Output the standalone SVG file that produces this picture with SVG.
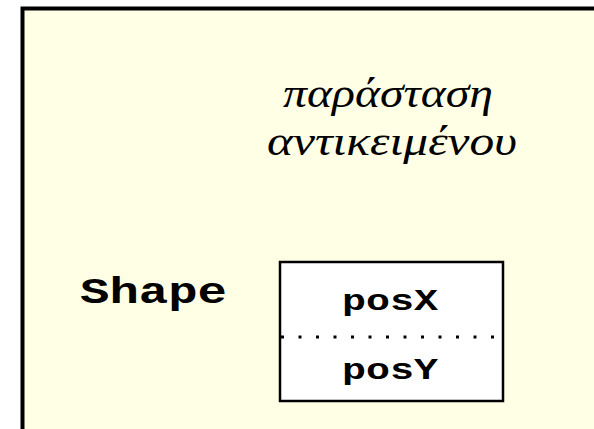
<svg xmlns="http://www.w3.org/2000/svg" width="594" height="429" viewBox="0 0 594 429">
<style>
.mono{font-family:"Liberation Mono","Courier New",monospace;font-weight:bold;fill:#000}
.greek{font-family:"Liberation Serif","Times New Roman","DejaVu Serif",serif;font-style:italic;fill:#000}
</style>
<rect x="0" y="0" width="594" height="429" fill="#ffffff"/>
<g id="frame">
<rect x="22.5" y="8.5" width="600" height="450" fill="#ffffe6" stroke="#000" stroke-width="4"/>
</g>
<g id="title">
<text class="greek" x="388" y="107" font-size="42" text-anchor="middle" textLength="210" lengthAdjust="spacingAndGlyphs">παράσταση</text>
<text class="greek" x="392" y="155" font-size="42" text-anchor="middle" textLength="250" lengthAdjust="spacingAndGlyphs">αντικειμένου</text>
</g>
<g id="shape-label">
<text class="mono" x="80" y="303" font-size="37" textLength="147" lengthAdjust="spacingAndGlyphs">Shape</text>
</g>
<g id="shape-box">
<rect x="280" y="262" width="223" height="139" fill="#ffffff" stroke="#000" stroke-width="2.5"/>
<line x1="281" y1="337" x2="502" y2="337" stroke="#000" stroke-width="3" stroke-dasharray="3 14.5"/>
<text class="mono" x="342" y="310" font-size="29" textLength="96" lengthAdjust="spacingAndGlyphs">posX</text>
<text class="mono" x="342" y="379" font-size="29" textLength="96" lengthAdjust="spacingAndGlyphs">posY</text>
</g>
</svg>
